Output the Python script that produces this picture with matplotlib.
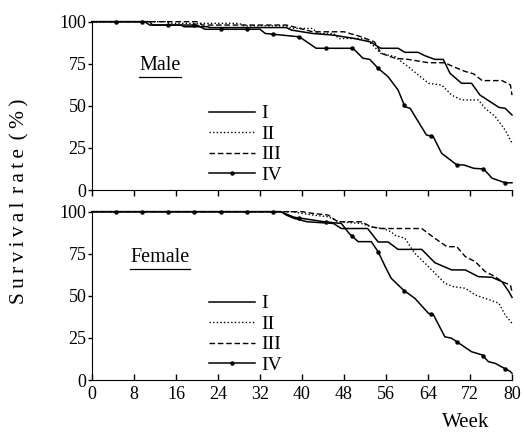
import numpy as np
import matplotlib
matplotlib.use("Agg")
import matplotlib.pyplot as plt
from matplotlib.lines import Line2D

plt.rcParams['font.family'] = ['Liberation Serif', 'DejaVu Serif']

# ---- data (week, survival %) ----
male_I_w = [0, 11, 11.5, 17, 17.5, 22, 22.5, 37, 38, 42, 46, 50, 53, 55, 58.3, 59.6, 62.1, 63.4,
            65.3, 66.9, 68.2, 70.4, 72.3, 73.9, 77.5, 78.7, 80]
male_I_v = [100, 100, 98, 98, 97, 97, 96.5, 96.5, 95, 93, 92, 90, 88, 84.2, 84.2, 81.8, 81.8, 79.8,
            77.6, 77.6, 69.3, 63.4, 63.4, 56.4, 49.1, 48.5, 44.6]
male_II_w = [0, 14, 15, 28, 29, 37, 38, 42, 43, 46, 47, 52, 53.5, 55, 57.7, 60.2, 64.1, 66.6, 68.5,
             70.4, 73.6, 74.9, 76.8, 78.7, 80]
male_II_v = [100, 100, 99, 99, 97.5, 97.5, 96, 96, 93, 93, 90, 90, 86, 81.2, 79.2, 73.3, 63.4, 62.4,
             56.4, 53.5, 53.5, 48.5, 43.6, 35.6, 28]
male_III_w = [0, 20, 21, 37, 39, 42, 48, 51.3, 53.8, 55.1, 57.7, 60.2, 64.1, 67.2, 68.8, 71.1, 72.7,
              74.3, 78.1, 79.7, 80]
male_III_v = [100, 100, 98, 98, 96.5, 94, 94, 91, 88, 81.2, 78.3, 77.6, 75.6, 75.6, 73.3, 70.4, 69,
              65, 65, 62.4, 56.4]
male_IV_w = [0, 10, 11, 20, 21.5, 32, 33, 39.5, 42.7, 49.7, 51.6, 52.9, 54.5, 56.4, 58.3, 59.6, 60.6,
             63.7, 65, 66.6, 69.5, 70.8, 72.7, 74.6, 76.2, 78.7, 80]
male_IV_v = [100, 100, 98, 98, 95.5, 95.5, 93, 91, 84.2, 84.2, 78.3, 77.6, 72.3, 67.3, 59.4, 49.5,
             48.5, 32.7, 31.7, 21.8, 14.9, 14.9, 12.9, 12.5, 7, 4.3, 4.3]

female_I_w = [0, 36, 37, 38.5, 41, 46, 47.5, 52.5, 54.5, 56.4, 58.3, 62.8, 65.3, 68.5, 71.1, 73.6,
              76.2, 78.1, 79.4, 80]
female_I_v = [100, 100, 98, 96, 94, 93, 90, 90, 82, 82, 77.6, 77.6, 69.7, 65.4, 65.4, 61.4, 61, 58.4,
              52.5, 49.1]
female_II_w = [0, 38, 40, 42, 45, 47, 51.3, 53.2, 55.5, 57, 57.7, 59.6, 61.5, 62.8, 64.7, 67.2, 68.8,
               71.1, 73, 74.9, 77.5, 78.7, 80]
female_II_v = [100, 100, 99, 98, 97, 94, 93, 91, 90, 88, 86, 84.2, 75.2, 71.3, 65.4, 57.5, 55.5,
               54.5, 50.5, 48.5, 45.6, 38.6, 33.7]
female_III_w = [0, 40, 42, 45, 46.8, 51.3, 53.2, 55, 62.8, 65.3, 67.6, 69.5, 71.1, 73, 74.9, 76.8,
                78.1, 79.7, 80]
female_III_v = [100, 100, 99, 98, 94, 94, 91, 90, 90, 84.2, 79.2, 79.2, 73.3, 70.3, 64.4, 61.4,
                58.4, 56.4, 52.5]
female_IV_w = [0, 36, 37, 38.5, 44.3, 47.5, 49, 50.7, 53.2, 54.5, 56, 57, 59.3, 61.5, 64.1, 65, 67.2,
               68.5, 72.3, 74.3, 75.5, 76.8, 79.7, 80]
female_IV_v = [100, 100, 98.6, 96.7, 94, 93, 87, 82.2, 82.2, 76.2, 66.4, 60.4, 53.5, 48.5, 39.6, 39,
               25.7, 24.8, 16.8, 14.9, 10.9, 9.9, 5, 4]

# weeks where group IV carries a dot marker
marker_weeks = [4.5, 9.5, 14.5, 19.5, 24.5, 29.5, 34.5, 39.5, 44.5, 49.5, 54.5, 59.5, 64.5, 69.5,
                74.5, 78.7]

groups = ['I', 'II', 'III', 'IV']
x_ticks = [0, 8, 16, 24, 32, 40, 48, 56, 64, 72, 80]
y_ticks = [0, 25, 50, 75, 100]

styles = {
    'I': dict(ls='-', lw=1.1),
    'II': dict(ls=(0, (1, 1.6)), lw=1.0),
    'III': dict(ls=(0, (4, 2)), lw=1.0),
    'IV': dict(ls='-', lw=1.1),
}

fig = plt.figure(figsize=(5.24, 4.38), dpi=100)
ax1 = fig.add_axes([0.1756, 0.5662, 0.8015, 0.3843])
ax2 = fig.add_axes([0.1756, 0.1324, 0.8015, 0.3843])


def draw(ax, series, title, title_x, title_y):
    for g in groups:
        w, v = series[g]
        ax.plot(w, v, color='black', clip_on=False, **styles[g])
    w, v = series['IV']
    ax.plot(marker_weeks, np.interp(marker_weeks, w, v), 'o', color='black', ms=2.2,
            clip_on=False)
    ax.set_xlim(0, 80)
    ax.set_ylim(0, 100)
    ax.set_xticks(x_ticks)
    ax.set_yticks(y_ticks)
    for s in ['top', 'right']:
        ax.spines[s].set_visible(False)
    ax.tick_params(axis='y', direction='out', length=3, width=1, labelsize=13, pad=1)
    ax.tick_params(axis='x', length=4, width=1, labelsize=13)
    t = ax.text(title_x, title_y, title, fontsize=14.5, va='center', ha='left')
    # underline for the panel title
    fig.canvas.draw()
    bb = t.get_window_extent().transformed(ax.transData.inverted())
    ax.plot([bb.x0, bb.x1], [bb.y0 - 1.5, bb.y0 - 1.5], color='black', lw=0.9)

    handles = [Line2D([], [], color='black', **styles[g]) for g in groups[:3]]
    handles.append(Line2D([], [], color='black', marker='o', ms=2.2, markevery=[0, 1],
                          **styles['IV']))
    ax.legend(handles, groups, loc='lower left', bbox_to_anchor=(0.245, -0.045), frameon=False,
              fontsize=14, handlelength=2.4, handletextpad=0.3, labelspacing=0.15,
              borderpad=0.2)


draw(ax1, {'I': (male_I_w, male_I_v), 'II': (male_II_w, male_II_v),
           'III': (male_III_w, male_III_v), 'IV': (male_IV_w, male_IV_v)}, 'Male', 9.0, 74)
draw(ax2, {'I': (female_I_w, female_I_v), 'II': (female_II_w, female_II_v),
           'III': (female_III_w, female_III_v), 'IV': (female_IV_w, female_IV_v)}, 'Female', 7.3, 73)

ax1.tick_params(axis='x', direction='out', labelbottom=False)
ax2.tick_params(axis='x', direction='in', pad=4)

# the original label is set with wide letter spacing
ylabel = '\u2009\u2009'.join('\u2009'.join(word) for word in ['Survival', 'rate', '(%)'])
fig.text(0.038, 0.54, ylabel, rotation=90, fontsize=15.5, ha='center', va='center')
fig.text(0.888, 0.035, 'Week', fontsize=15, ha='center', va='center')

fig.savefig('out.png', dpi=100)
